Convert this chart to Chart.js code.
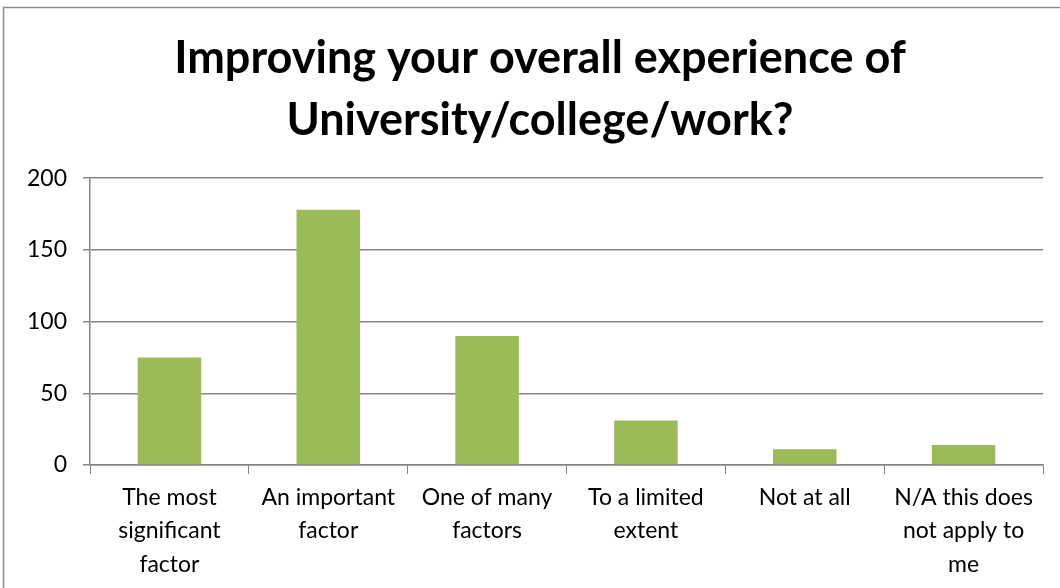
<!DOCTYPE html>
<html>
<head>
<meta charset="utf-8">
<script src="https://cdn.jsdelivr.net/npm/chart.js@4/dist/chart.umd.min.js"></script>
<style>
  html, body { margin: 0; padding: 0; background: #fff; }
  #wrap { width: 1060px; height: 588px; position: relative; }
</style>
</head>
<body>
<div id="wrap"><canvas id="chart"></canvas></div>
<script>
// categorias e valores
const categories = [
    ["The most", "significant", "factor"],
    ["An important", "factor"],
    ["One of many", "factors"],
    ["To a limited", "extent"],
    ["Not at all"],
    ["N/A this does", "not apply to", "me"],
];
const responses = [75, 178, 90, 31, 11, 14];
const yTicks = [0, 50, 100, 150, 200];
const chartTitle = ["Improving your overall experience of", "University/college/work?"];

// moldura cinza do gráfico (canto superior esquerdo visível)
const framePlugin = {
    id: "frame",
    beforeDraw(chart) {
        const ctx = chart.ctx;
        ctx.save();
        ctx.strokeStyle = "#8c8c8c";
        ctx.lineWidth = 1.5;
        ctx.beginPath();
        ctx.moveTo(3.5, 600);
        ctx.lineTo(3.5, 7.5);
        ctx.lineTo(1070, 7.5);
        ctx.stroke();
        ctx.restore();
    },
    // centraliza o título na largura da página (e não só na área com padding)
    afterLayout(chart) {
        const t = chart.titleBlock;
        if (t) {
            t.left += 13;
            t.right += 13;
        }
    },
};

const ctx = document.getElementById("chart").getContext("2d");
new Chart(ctx, {
    type: "bar",
    data: {
        labels: categories,
        datasets: [
            {
                data: responses,
                backgroundColor: "#9bbb59",
                borderWidth: 0,
                barPercentage: 0.4,
                categoryPercentage: 1,
            },
        ],
    },
    options: {
        responsive: true,
        maintainAspectRatio: false,
        animation: false,
        layout: {
            padding: { left: 11, right: 17, top: 17, bottom: 0 },
        },
        plugins: {
            legend: { display: false },
            tooltip: { enabled: false },
            title: {
                display: true,
                text: chartTitle,
                color: "#000",
                font: { family: "Lato", size: 45, weight: "bold", lineHeight: 1.38 },
                padding: { top: 10, bottom: 27 },
            },
        },
        scales: {
            x: {
                grid: {
                    offset: true,
                    drawOnChartArea: false,
                    drawTicks: true,
                    tickLength: 9,
                    color: "#868686",
                },
                border: { color: "#868686", width: 1.5 },
                ticks: {
                    color: "#000",
                    font: { family: "Lato", size: 23, lineHeight: 1.45 },
                    maxRotation: 0,
                    padding: 7,
                },
            },
            y: {
                min: 0,
                max: 200,
                afterBuildTicks(scale) {
                    scale.ticks = yTicks.map(v => ({ value: v }));
                },
                grid: {
                    color: "#868686",
                    lineWidth: 1.5,
                    tickLength: 7,
                },
                border: { color: "#868686", width: 1.5 },
                ticks: {
                    color: "#000",
                    font: { family: "Lato", size: 23 },
                    padding: 16,
                },
            },
        },
    },
    plugins: [framePlugin],
});
</script>
</body>
</html>
